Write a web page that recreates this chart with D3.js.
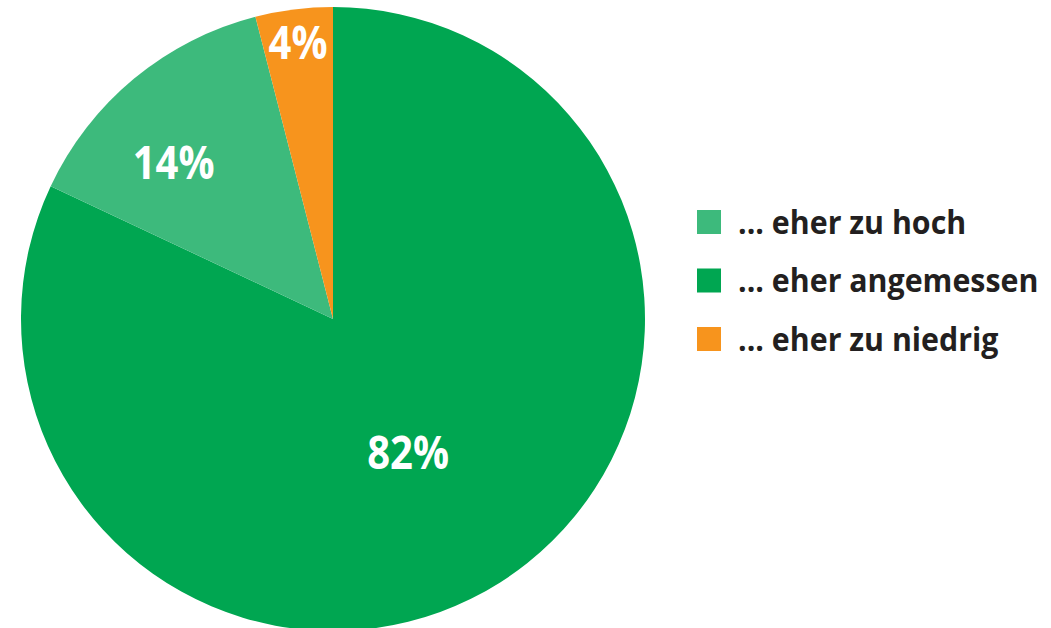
<!DOCTYPE html>
<html lang="de">
<head>
<meta charset="UTF-8">
<title>Pie</title>
<script src="https://d3js.org/d3.v7.min.js"></script>
<style>
  body { margin: 0; background: #fff; }
  text { font-family: "Liberation Sans Narrow", "Open Sans", sans-serif; font-weight: bold; }
</style>
</head>
<body>
<script>
  // data, in clockwise order from 12 o'clock
  const sliceNames = ["... eher angemessen", "... eher zu hoch", "... eher zu niedrig"];
  const sliceValues = [82, 14, 4];
  const sliceColors = ["#00a651", "#3dba7c", "#f7941d"];
  const legendOrder = ["... eher zu hoch", "... eher angemessen", "... eher zu niedrig"];

  // label placement, set by eye: distance (fraction of radius) and angle shift (deg)
  const labelRadius = [0.49, 0.715, 0.895];
  const labelShift = [3, -6, 0];

  const width = 1051, height = 628;
  const cx = 333, cy = 319, r = 312;
  const squeeze = 0.87; // the original font is a condensed face

  const svg = d3.select("body").append("svg")
    .attr("width", width)
    .attr("height", height);

  const color = d3.scaleOrdinal().domain(sliceNames).range(sliceColors);

  const pie = d3.pie().sort(null).value(d => d.value);
  const arcs = pie(sliceNames.map((n, i) => ({ name: n, value: sliceValues[i] })));

  const arc = d3.arc().innerRadius(0).outerRadius(r);

  const g = svg.append("g").attr("transform", `translate(${cx},${cy})`);

  g.selectAll("path")
    .data(arcs)
    .enter()
    .append("path")
    .attr("d", arc)
    .attr("fill", d => color(d.data.name));

  g.selectAll("text")
    .data(arcs)
    .enter()
    .append("text")
    .attr("transform", (d, i) => {
      const lr = r * labelRadius[i];
      const a = (d.startAngle + d.endAngle) / 2 + labelShift[i] * Math.PI / 180;
      return `translate(${Math.sin(a) * lr},${-Math.cos(a) * lr}) scale(${squeeze},1)`;
    })
    .attr("text-anchor", "middle")
    .attr("dy", "0.36em")
    .attr("fill", "#fff")
    .style("font-size", "46px")
    .text(d => d.data.value + "%");

  // legend
  const ly = d3.scalePoint().domain(legendOrder).range([222, 339]);

  const legend = svg.append("g");
  const items = legend.selectAll("g")
    .data(legendOrder)
    .enter()
    .append("g")
    .attr("transform", d => `translate(697,${ly(d)})`);

  items.append("rect")
    .attr("x", 0)
    .attr("y", -12)
    .attr("width", 24)
    .attr("height", 24)
    .attr("fill", d => color(d));

  items.append("text")
    .attr("transform", `translate(41,0) scale(0.92,1)`)
    .attr("dy", "0.36em")
    .attr("fill", "#231f20")
    .style("font-size", "33px")
    .text(d => d);
</script>
</body>
</html>
